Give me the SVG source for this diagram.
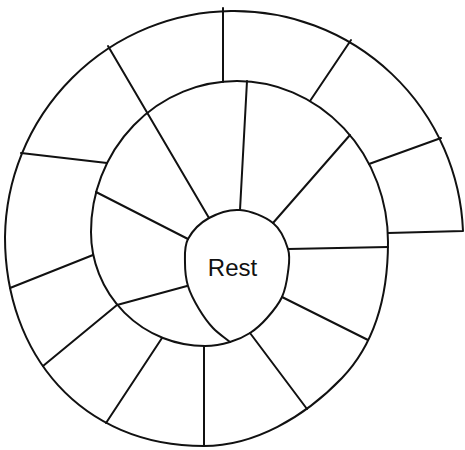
<svg xmlns="http://www.w3.org/2000/svg" width="465" height="450" viewBox="0 0 465 450">
<style>
.ln{fill:none;stroke:#111;stroke-width:2;stroke-linecap:round;stroke-linejoin:round}
.lbl{font-family:"Liberation Sans",Arial,sans-serif;font-size:24px;fill:#111;text-anchor:middle}
</style>
<rect width="465" height="450" fill="#fff"/>
<g id="spiral">
<path class="ln" d="M230,342 C222,344.5 213,346 205,346 A114,114 0 0 1 91,232 A146,151 0 0 1 237,81 A151,161 0 0 1 388,242 C388,302 373,345.6 342,378 C304,417.6 254,446 204,446 C80.6,446 5,354 5,237 A229.1,229.1 0 0 1 463,231 L388,233"/>
</g>
<g id="connectors">
<path class="ln" d="M223,8 L223,82"/>
<path class="ln" d="M108,46 L209,218"/>
<path class="ln" d="M351,40 L310,101"/>
<path class="ln" d="M441,138 L369,164"/>
<path class="ln" d="M21,153 L107,163"/>
<path class="ln" d="M247,81 L240,210"/>
<path class="ln" d="M350,135 L273,223"/>
<path class="ln" d="M96,192 L188,239"/>
<path class="ln" d="M117,305 L187,286"/>
<path class="ln" d="M288,249 L388,247"/>
<path class="ln" d="M282,297 L368,340"/>
<path class="ln" d="M250,333 L307,409"/>
<path class="ln" d="M204,346 L204,446"/>
<path class="ln" d="M162,338 L106,423"/>
<path class="ln" d="M117,305 L43,366"/>
<path class="ln" d="M93,255 L10,288"/>
</g>
<g id="rest">
<path class="ln" d="M230,342 C224.3,337.3 218.2,333.5 213,328 C207.8,322.5 203.2,316 199,309 C194.8,302 190.3,293.7 188,286 C185.7,278.3 185,270.8 185,263 C185,255.2 184,246.5 188,239 C192,231.5 200.3,222.8 209,218 C217.7,213.2 229.3,209.2 240,210 C250.7,210.8 265,216.5 273,223 C281,229.5 285.5,240.8 288,249 C290.5,257.2 289,264 288,272 C287,280 285.5,289.3 282,297 C278.5,304.7 272.3,312 267,318 C261.7,324 256.2,329 250,333 C243.8,337 237,340 230,342 Z"/>
<text class="lbl" x="232.5" y="276">Rest</text>
</g>
</svg>
